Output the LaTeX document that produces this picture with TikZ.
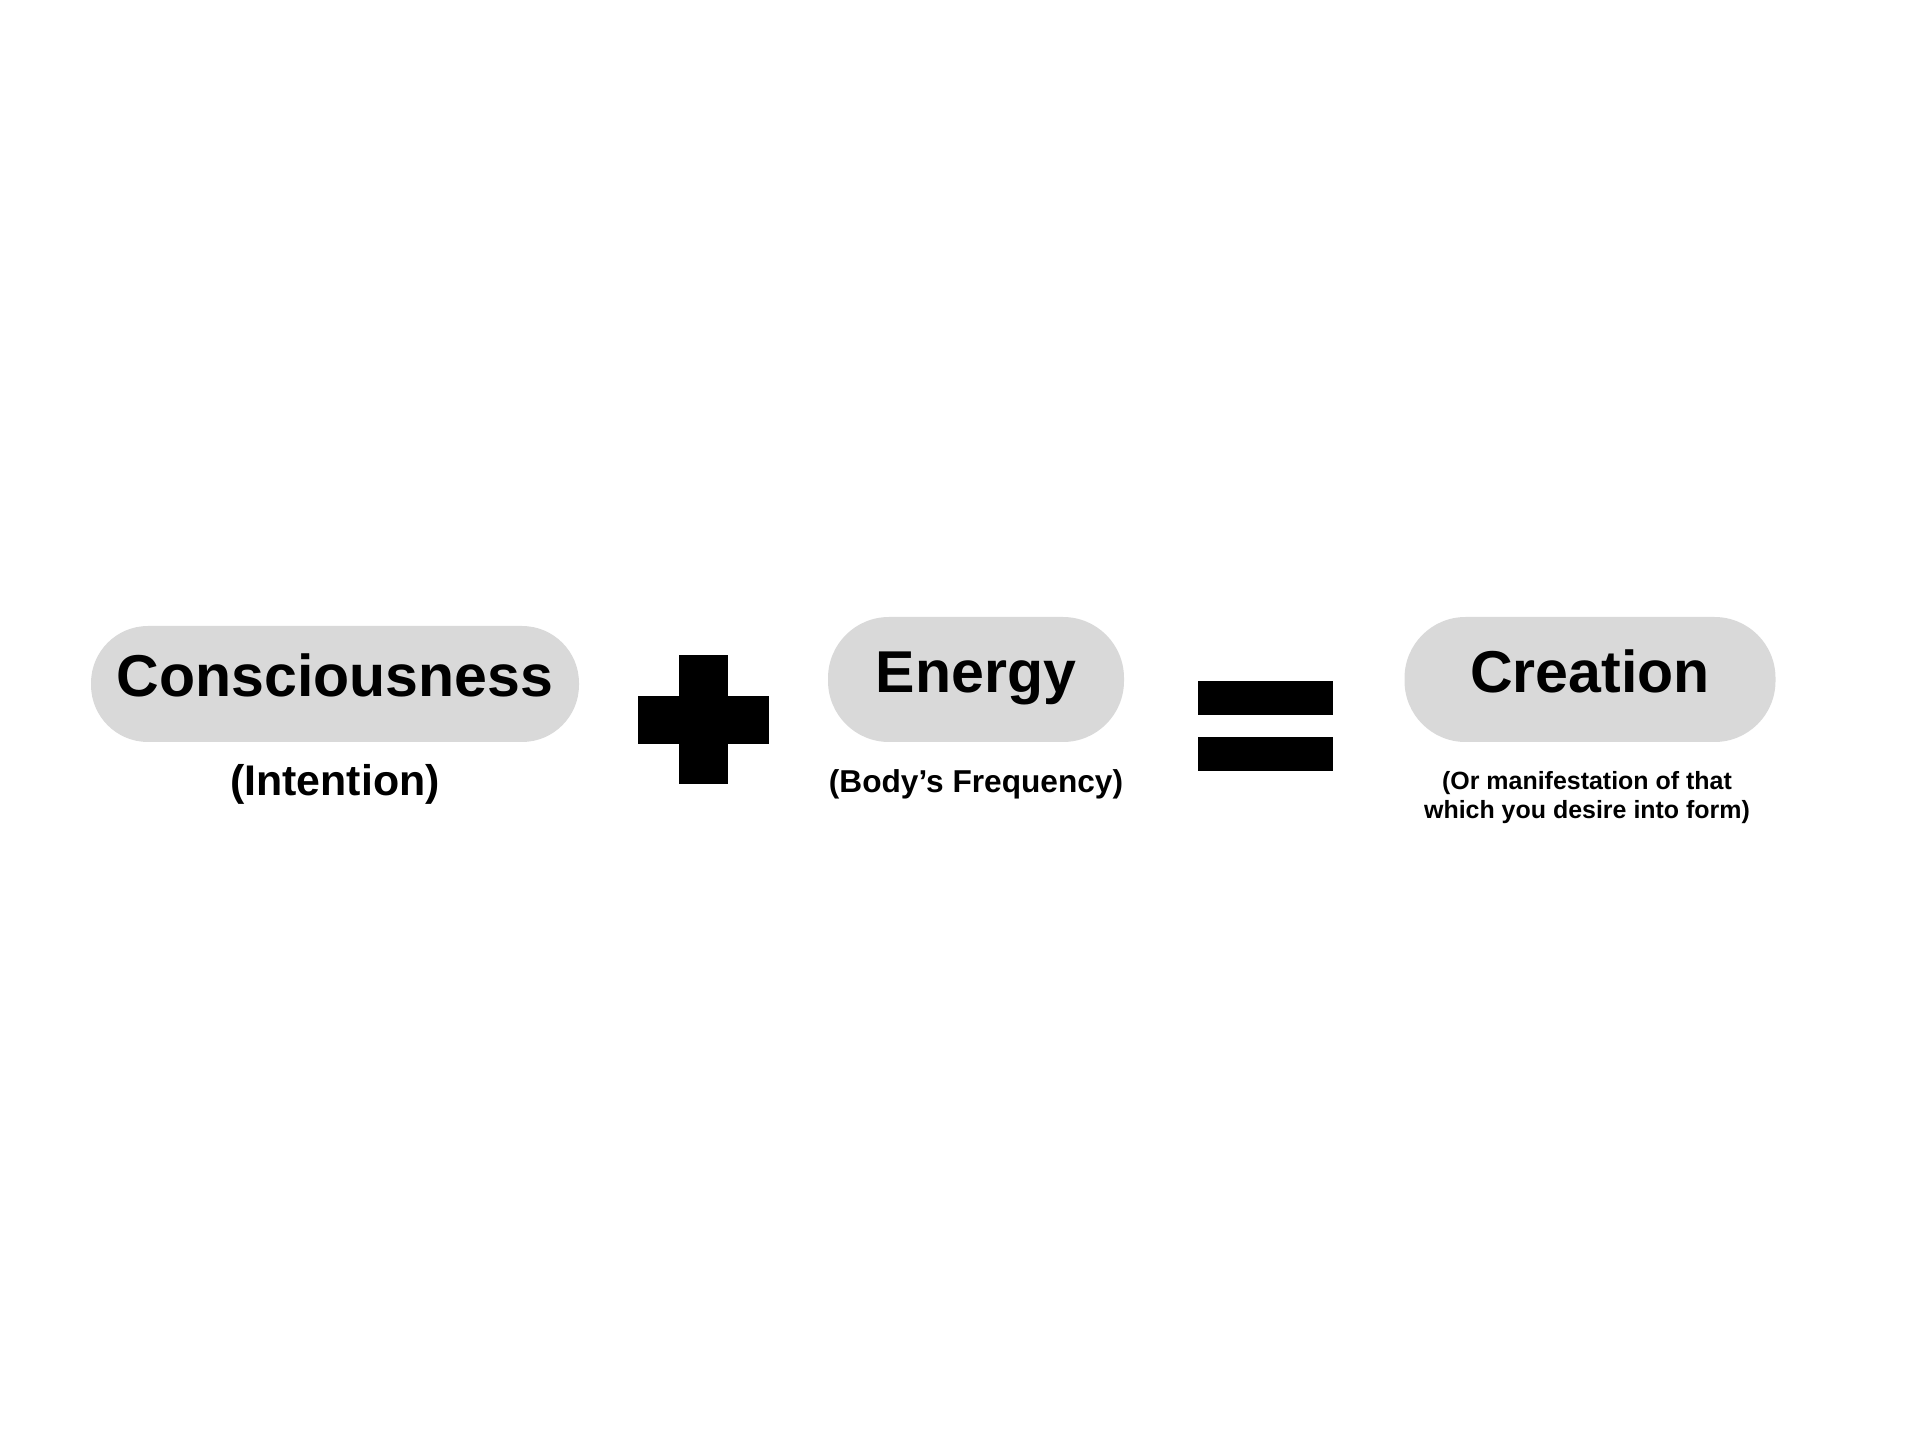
\documentclass[tikz,border=0pt]{standalone}
\usepackage{fontspec}
\setmainfont{Liberation Sans}
\usepackage{tikz}

\definecolor{pillgray}{HTML}{D9D9D9}

\begin{document}
\begin{tikzpicture}[font=\bfseries, align=center]
    \tikzstyle{pill} = [fill=pillgray, inner sep=0pt, text height=0.72em, text depth=0em,
        font=\bfseries\fontsize{16.8}{20}\selectfont]
    \tikzstyle{sub} = [inner sep=0pt]
    \tikzstyle{bar} = [fill=black, inner sep=0pt]

    \useasboundingbox (0, 0) rectangle (19.2, 14.4);

    \node (a) at (3.35, 7.56) [pill, minimum width=4.88cm, minimum height=1.16cm, rounded corners=0.57cm] {Consciousness};
    \node (b) at (9.76, 7.605) [pill, minimum width=2.96cm, minimum height=1.25cm, rounded corners=0.61cm] {Energy};
    \node (c) at (15.90, 7.605) [pill, minimum width=3.71cm, minimum height=1.25cm, rounded corners=0.61cm] {Creation};

    \node (d) at (3.35, 6.555) [sub, font=\bfseries\fontsize{12.2}{14}\selectfont] {(Intention)};
    \node (e) at (9.76, 6.56) [sub, font=\bfseries\fontsize{9}{11}\selectfont] {(Body’s Frequency)};
    \node (f) at (15.87, 6.425) [sub, font=\bfseries\fontsize{7.1}{8.5}\selectfont] {(Or manifestation of that \\ which you desire into form)};

    \node (g) at (7.035, 7.205) [bar, minimum width=0.49cm, minimum height=1.29cm] {};
    \node (h) at (7.035, 7.2) [bar, minimum width=1.31cm, minimum height=0.48cm] {};

    \node (i) at (12.655, 7.42) [bar, minimum width=1.35cm, minimum height=0.34cm] {};
    \node (j) at (12.655, 6.86) [bar, minimum width=1.35cm, minimum height=0.34cm] {};
\end{tikzpicture}
\end{document}
